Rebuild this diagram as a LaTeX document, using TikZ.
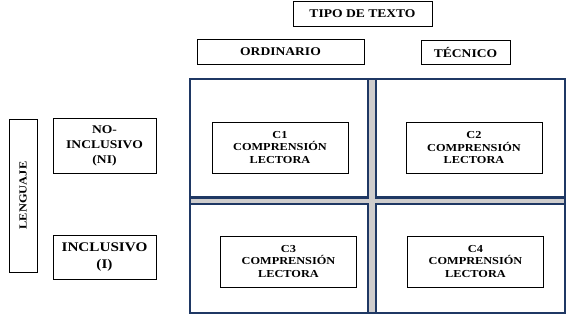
\documentclass[tikz,border=0pt]{standalone}
\usepackage{fontspec}
\setmainfont{Liberation Serif}[FakeStretch=1.15]
\definecolor{frame}{HTML}{1F3864}
\definecolor{band}{HTML}{CFCDCD}

\begin{document}
\begin{tikzpicture}[x=1pt,y=-1pt,font=\bfseries,
  labelbox/.style={draw,line width=0.8pt,align=center,inner sep=1pt},
  headbox/.style={labelbox,font=\fontsize{11.8}{14}\selectfont\bfseries},
  cellbox/.style={labelbox,font=\fontsize{10.7}{12.5}\selectfont\bfseries,minimum width=136pt,minimum height=51pt},
  cellline/.style={draw=frame,line width=2.7pt}]
\useasboundingbox (0,0) rectangle (569,316);
% headers
\node[headbox,minimum width=139pt,minimum height=25pt] (tipo) at (362.5,13.5) {TIPO DE TEXTO};
\node[headbox,minimum width=167pt,minimum height=25pt] (ordinario) at (280.5,51.5) {ORDINARIO};
\node[headbox,minimum width=89pt,minimum height=24pt] (tecnico) at (465.5,52) {TÉCNICO};
\node[headbox,rotate=90,minimum width=153pt,minimum height=28pt,font=\fontsize{10.8}{13}\selectfont\bfseries] (lenguaje) at (23,195.5) {LENGUAJE};
\node[headbox,minimum width=103pt,minimum height=55pt,font=\fontsize{11.8}{15}\selectfont\bfseries] (noincl) at (104.5,145.5) {NO-\\INCLUSIVO\\(NI)};
\node[headbox,minimum width=103pt,minimum height=44pt,font=\fontsize{13.2}{16.5}\selectfont\bfseries] (incl) at (104.5,257) {INCLUSIVO\\(I)};
% grid of the four cells
\fill[band] (368,79) rectangle (376,313);
\fill[band] (190,197.5) rectangle (565,204);
\draw[cellline] (190,79) rectangle (368,197.5);
\draw[cellline] (376,79) rectangle (565,197.5);
\draw[cellline] (190,204) rectangle (368,313);
\draw[cellline] (376,204) rectangle (565,313);
\draw[cellline] (190,79) rectangle (565,313);
% cells
\node[cellbox] (c1) at (280,147.5) {C1\\COMPRENSIÓN\\LECTORA};
\node[cellbox] (c2) at (474,148) {C2\\COMPRENSIÓN\\LECTORA};
\node[cellbox] (c3) at (288.5,261.5) {C3\\COMPRENSIÓN\\LECTORA};
\node[cellbox] (c4) at (475.5,261.5) {C4\\COMPRENSIÓN\\LECTORA};
\end{tikzpicture}
\end{document}
